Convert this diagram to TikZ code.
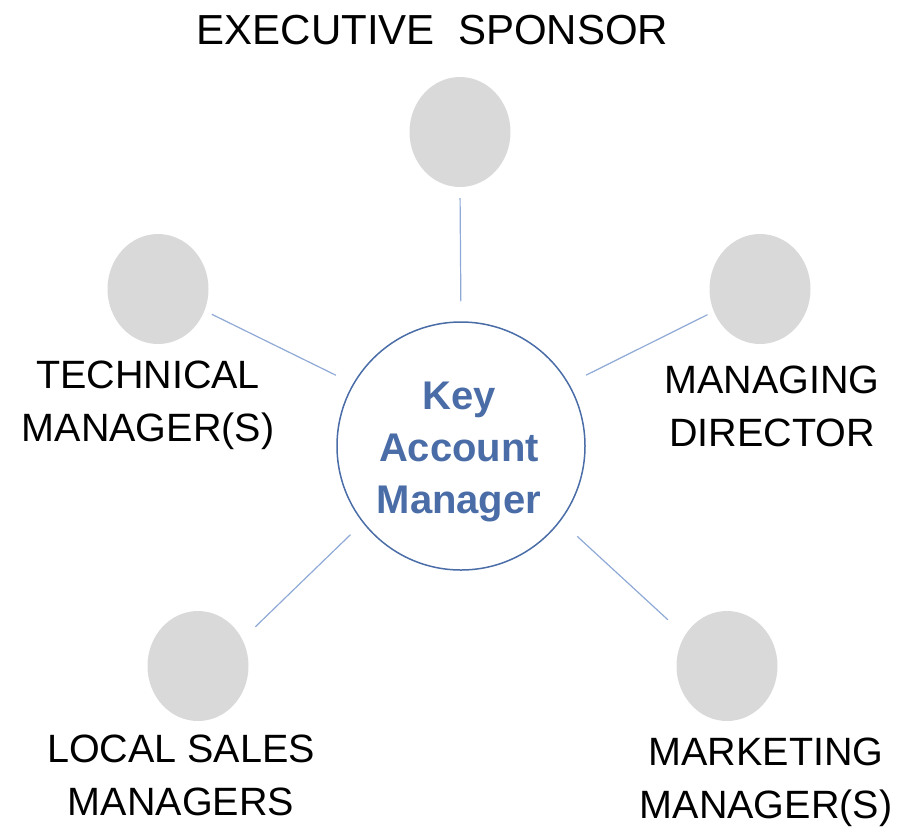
\documentclass[tikz,border=0pt]{standalone}
\usepackage{fontspec}
\setmainfont{Liberation Sans}
\usetikzlibrary{shapes.geometric}
\definecolor{kamblue}{HTML}{4A6DA7}
\definecolor{linkblue}{HTML}{8FA9D6}
\definecolor{discgray}{HTML}{D9D9D9}
\newcommand{\twolines}[2]{\begin{tabular}[t]{@{}c@{}}#1\\#2\end{tabular}}
\begin{document}
\begin{tikzpicture}[x=1pt,y=-1pt,
  disc/.style={ellipse, fill=discgray, draw=none, minimum width=101pt, minimum height=110pt, inner sep=0pt},
  hub/.style={circle, draw=kamblue, line width=1.5pt, minimum size=248pt, inner sep=0pt},
  hubtext/.style={anchor=base, inner sep=0pt, text=kamblue, font=\fontsize{40}{52}\selectfont\bfseries},
  role/.style={anchor=base, inner sep=0pt, font=\fontsize{39.5}{53}\selectfont},
  titletext/.style={anchor=base, inner sep=0pt, font=\fontsize{42}{50}\selectfont},
  link/.style={draw=linkblue, line width=1.2pt}]
\useasboundingbox (0,0) rectangle (910,828);

% title
\node[titletext] (title) at (432.5,44) {EXECUTIVE\ \ SPONSOR};

% discs
\node[disc] (exec) at (460,132) {};
\node[disc] (tech) at (158,289) {};
\node[disc] (md)   at (760,289) {};
\node[disc] (lsm)  at (198,666) {};
\node[disc] (mm)   at (727,666) {};

% hub
\node[hub] (kam) at (461,446) {};
\node[hubtext] (kamt) at (459,409) {\begin{tabular}[t]{@{}c@{}}Key\\Account\\Manager\end{tabular}};

% role labels
\node[role] (techl) at (148,388) {\twolines{TECHNICAL}{MANAGER(S)}};
\node[role] (mdl)   at (772,393) {\twolines{MANAGING}{DIRECTOR}};
\node[role] (lsml)  at (181,762) {\twolines{LOCAL SALES}{MANAGERS}};
\node[role] (mml)   at (766,765) {\twolines{MARKETING}{MANAGER(S)}};

% connectors
\draw[link, shorten <=11pt, shorten >=20pt] (exec.south) -- (kam.north);
\draw[link, shorten <=8pt, shorten >=19pt] (tech.-25) -- (kam.150);
\draw[link, shorten <=7pt, shorten >=19pt] (md.206.6) -- (kam.30);
\draw[link, shorten <=18pt, shorten >=17pt] (lsm.31) -- (kam.218);
\draw[link, shorten <=23pt, shorten >=22.5pt] (mm.144) -- (kam.-37);
\end{tikzpicture}
\end{document}
